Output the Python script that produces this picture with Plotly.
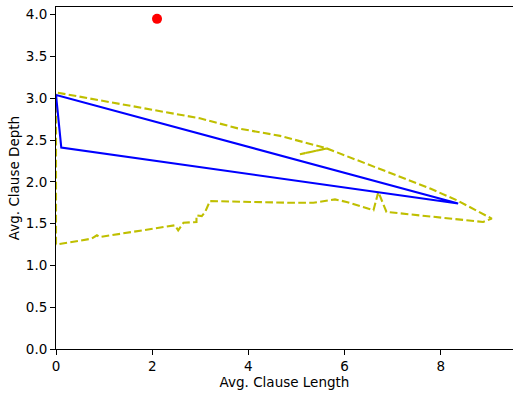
import plotly.graph_objects as go

# Blue solid polygon
blue_x = [0.0, 0.11, 8.36, 0.0]
blue_y = [3.04, 2.41, 1.74, 3.04]

# Yellow dashed outline
yel_x = [0.0, 0.0, 2.99, 3.78, 4.66, 5.63, 5.07, 5.63, 7.78, 8.33, 9.06,
         8.88, 6.87, 6.70, 6.60, 6.04, 5.80, 5.35, 4.86, 3.20, 3.10, 3.03,
         2.92, 2.92, 2.65, 2.54, 2.47, 0.91, 0.85, 0.74, 0.01, 0.0]
yel_y = [1.25, 3.07, 2.76, 2.64, 2.55, 2.40, 2.33, 2.40, 1.92, 1.78, 1.56,
         1.52, 1.64, 1.88, 1.66, 1.76, 1.79, 1.75, 1.75, 1.77, 1.64, 1.59,
         1.60, 1.52, 1.51, 1.42, 1.48, 1.34, 1.36, 1.32, 1.25, 1.25]

# Red point
red_x = [2.10]
red_y = [3.95]

x_ticks = [0, 2, 4, 6, 8]
y_ticks = [0.0, 0.5, 1.0, 1.5, 2.0, 2.5, 3.0, 3.5, 4.0]

fig = go.Figure()
fig.add_trace(go.Scatter(x=yel_x, y=yel_y, mode="lines",
                         line=dict(color="#bfbf00", width=2.1, dash="7.7px,3.3px")))
fig.add_trace(go.Scatter(x=blue_x, y=blue_y, mode="lines",
                         line=dict(color="#0000ff", width=2.1)))
fig.add_trace(go.Scatter(x=red_x, y=red_y, mode="markers",
                         marker=dict(color="#ff0000", size=10)))

font = dict(family="DejaVu Sans", size=13.5, color="black")
fig.update_layout(
    width=513, height=393,
    margin=dict(l=56, r=0, t=7, b=44),
    paper_bgcolor="white", plot_bgcolor="white",
    showlegend=False,
    font=font,
    xaxis=dict(range=[0, 9.5], tickvals=x_ticks, ticktext=[str(v) for v in x_ticks],
               showgrid=False, zeroline=False, showline=True, mirror=True,
               linecolor="black", linewidth=1, ticks="outside", ticklen=5,
               tickcolor="black", title=dict(text="Avg. Clause Length", font=font, standoff=3)),
    yaxis=dict(range=[0, 4.092], tickvals=y_ticks, ticktext=[f"{v:.1f}" for v in y_ticks],
               showgrid=False, zeroline=False, showline=True,
               linecolor="black", linewidth=1, ticks="outside", ticklen=5,
               tickcolor="black", title=dict(text="Avg. Clause Depth", font=font, standoff=3)),
)
fig.write_html("out.html")
